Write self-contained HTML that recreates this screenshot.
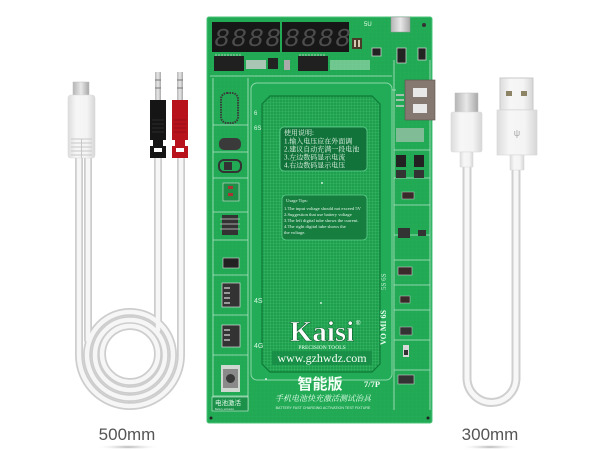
<!DOCTYPE html>
<html><head><meta charset="utf-8"><style>
html,body{margin:0;padding:0;background:#fff;}
svg{display:block;font-family:"Liberation Sans","Noto Sans CJK SC",sans-serif;}
</style></head><body>
<svg width="600" height="450" viewBox="0 0 600 450" xmlns="http://www.w3.org/2000/svg">
<defs>
<pattern id="grid" width="3" height="3" patternUnits="userSpaceOnUse"><path d="M3 0H0V3" fill="none" stroke="#3fbd6c" stroke-width="0.7"/></pattern>
<pattern id="grid2" width="4" height="4" patternUnits="userSpaceOnUse"><path d="M4 0H0V4" fill="none" stroke="#2db45f" stroke-width="0.5"/></pattern>
<linearGradient id="wbody" x1="0" x2="1"><stop offset="0" stop-color="#dcdcdc"/><stop offset="0.3" stop-color="#f6f6f6"/><stop offset="0.7" stop-color="#f4f4f4"/><stop offset="1" stop-color="#d6d6d6"/></linearGradient>
<linearGradient id="metal" x1="0" x2="1"><stop offset="0" stop-color="#b5b5b5"/><stop offset="0.5" stop-color="#e8e8e8"/><stop offset="1" stop-color="#a8a8a8"/></linearGradient>
<radialGradient id="shadow"><stop offset="0" stop-color="#888" stop-opacity="0.7"/><stop offset="1" stop-color="#fff" stop-opacity="0"/></radialGradient>
</defs>

<!-- ============ LEFT CABLES ============ -->
<g fill="none" stroke-linecap="round">
 <g stroke="#cdcdcd" stroke-width="8">
  <path d="M79 158 V355 A51 51 0 0 0 181 355 V158"/>
  <path d="M88 158 V340"/>
  <path d="M158 158 V330"/>
  <circle cx="130" cy="355" r="43"/>
  <circle cx="130" cy="355" r="35"/>
  <circle cx="130" cy="354" r="28"/>
 </g>
 <g stroke="#f6f6f6" stroke-width="4.5">
  <path d="M79 158 V355 A51 51 0 0 0 181 355 V158"/>
  <path d="M88 158 V340"/>
  <path d="M158 158 V330"/>
  <circle cx="130" cy="355" r="43"/>
  <circle cx="130" cy="355" r="35"/>
  <circle cx="130" cy="354" r="28"/>
 </g>
</g>
<!-- micro usb (left) -->
<rect x="73" y="82" width="16" height="14" fill="url(#metal)" stroke="#bbb" stroke-width="0.5"/>
<rect x="68" y="95" width="27" height="63" rx="3" fill="url(#wbody)" stroke="#dadada" stroke-width="0.6"/>
<g stroke="#c8c8c8" stroke-width="1">
 <path d="M71 139H92M71 143H92M71 147H92M71 151H92M71 155H92"/>
 <path d="M81.5 139V158"/>
</g>
<!-- banana plugs -->
<rect x="155" y="72" width="6" height="29" fill="url(#metal)"/>
<rect x="177" y="72" width="6" height="29" fill="url(#metal)"/>
<path d="M155 80H161M155 88H161M177 80H183M177 88H183" stroke="#777" stroke-width="1"/>
<path d="M150 100 H166 V140 H163 V146 H166 V158 H150 V146 H153 V140 H150Z" fill="#151515"/>
<path d="M172 100 H188 V140 H185 V146 H188 V158 H172 V146 H175 V140 H172Z" fill="#b8121d"/>
<g stroke="#333" stroke-width="0.8"><path d="M152 120H164M152 124H164M152 128H164M152 132H164"/></g>
<g stroke="#8a0d15" stroke-width="0.8"><path d="M174 120H186M174 124H186M174 128H186M174 132H186"/></g>
<rect x="154" y="148" width="8" height="4" fill="#fff"/>
<rect x="176" y="148" width="8" height="4" fill="#fff"/>

<!-- ============ RIGHT CABLES ============ -->
<g fill="none">
 <path d="M467 166 V378 A24.5 24.5 0 0 0 516 378 V170" stroke="#cfcfcf" stroke-width="9"/>
 <path d="M467 166 V378 A24.5 24.5 0 0 0 516 378 V170" stroke="#f7f7f7" stroke-width="5"/>
</g>
<!-- micro usb right -->
<rect x="455" y="93" width="23" height="20" fill="url(#metal)" stroke="#bdbdbd" stroke-width="0.5"/>
<rect x="451" y="112" width="31" height="40" rx="2" fill="url(#wbody)" stroke="#d8d8d8" stroke-width="0.6"/>
<rect x="460" y="152" width="13" height="15" fill="url(#wbody)" stroke="#d8d8d8" stroke-width="0.5"/>
<!-- usb A -->
<rect x="500" y="78" width="33" height="32" fill="url(#wbody)" stroke="#c9c9c9" stroke-width="1"/>
<rect x="506" y="91" width="6" height="5" fill="#8d8466"/>
<rect x="521" y="91" width="6" height="5" fill="#8d8466"/>
<rect x="497" y="110" width="40" height="45" fill="url(#wbody)" stroke="#d6d6d6" stroke-width="0.6"/>
<text x="517" y="136" font-size="9" fill="#aaa" text-anchor="middle">ψ</text>
<rect x="510" y="155" width="14" height="15" fill="url(#wbody)" stroke="#d6d6d6" stroke-width="0.5"/>

<!-- labels -->
<ellipse cx="128" cy="447" rx="32" ry="2.5" fill="url(#shadow)"/>
<ellipse cx="490" cy="447" rx="30" ry="2.5" fill="url(#shadow)"/>
<text x="127" y="440" font-size="17" fill="#555" text-anchor="middle">500mm</text>
<text x="490" y="440" font-size="17" fill="#555" text-anchor="middle">300mm</text>

<!-- ============ BOARD ============ -->
<rect x="207" y="17" width="225" height="406" rx="2" fill="#21a954" stroke="#4cc57a" stroke-width="1"/>
<rect x="208" y="18" width="223" height="404" fill="url(#grid2)" opacity="0.6"/>
<!-- displays -->
<rect x="212" y="22" width="68" height="30" fill="#171717"/>
<rect x="282" y="22" width="67" height="30" fill="#171717"/>
<g font-family="Liberation Mono, monospace" font-size="26" font-style="italic" fill="#4d4d4d">
 <text x="214" y="46">8</text><text x="231" y="46">8</text><text x="248" y="46">8</text><text x="265" y="46">8</text>
 <text x="284" y="46">8</text><text x="301" y="46">8</text><text x="318" y="46">8</text><text x="335" y="46">8</text>
</g>
<!-- top right bits -->
<rect x="391" y="17" width="19" height="15" fill="url(#metal)" stroke="#999" stroke-width="0.5"/>
<text x="364" y="26" font-size="6" fill="#e8ffe8">5U</text>
<rect x="352" y="38" width="10" height="11" fill="#4a3a2a"/>
<rect x="354" y="40" width="2" height="7" fill="#d8c8b0"/><rect x="358" y="40" width="2" height="7" fill="#d8c8b0"/>
<rect x="372" y="48" width="9" height="8" fill="#222" stroke="#ddd" stroke-width="0.7"/>
<rect x="397" y="48" width="9" height="15" fill="#222" stroke="#ddd" stroke-width="0.7"/>
<rect x="418" y="48" width="8" height="12" fill="#222" stroke="#ddd" stroke-width="0.7"/>
<circle cx="424" cy="25" r="2" fill="#333"/>
<!-- IC row -->
<rect x="214" y="56" width="30" height="15" fill="#202020"/>
<rect x="298" y="56" width="30" height="15" fill="#202020"/>
<g stroke="#ccc" stroke-width="0.8">
 <path d="M216 56v-2M219 56v-2M222 56v-2M225 56v-2M228 56v-2M231 56v-2M234 56v-2M237 56v-2M240 56v-2"/>
 <path d="M300 56v-2M303 56v-2M306 56v-2M309 56v-2M312 56v-2M315 56v-2M318 56v-2M321 56v-2M324 56v-2"/>
</g>
<rect x="246" y="60" width="20" height="9" fill="#ccc" opacity="0.8"/>
<rect x="268" y="58" width="10" height="11" fill="#222"/>
<rect x="284" y="60" width="6" height="10" fill="#aaa"/>
<rect x="330" y="60" width="40" height="10" fill="#bde3c8" opacity="0.5"/>
<!-- silkscreen lines -->
<g stroke="#cfeedd" stroke-width="0.8" fill="none" opacity="0.85">
 <path d="M210 76H392"/>
 <path d="M213 78V410M248 78V410"/>
 <path d="M213 125H248M213 152H248M213 178H248M213 212H248M213 240H248M213 275H248M213 315H248M213 355H248M213 396H248"/>
 <path d="M394 60V410M430 60V410"/>
 <path d="M394 150H430M394 178H430M394 205H430M394 235H430M394 260H430M394 285H430M394 310H430M394 340H430M394 370H430"/>
 <path d="M386 90H396"/>
</g>
<!-- left column components -->
<rect x="221" y="93" width="17" height="30" rx="6" fill="none" stroke="#3a3a3a" stroke-width="2" stroke-dasharray="1.5 1"/>
<rect x="219" y="138" width="22" height="12" rx="5" fill="#3a3a3a"/>
<rect x="219" y="160" width="22" height="12" rx="5" fill="none" stroke="#333" stroke-width="2"/>
<rect x="224" y="162" width="8" height="8" fill="#333"/>
<rect x="223" y="183" width="16" height="18" fill="#1d8f47" stroke="#ddd" stroke-width="0.6"/>
<rect x="228" y="186" width="5" height="3" fill="#a33"/><rect x="228" y="193" width="5" height="3" fill="#a33"/>
<rect x="222" y="215" width="16" height="20" fill="#333"/>
<path d="M220 219H240M220 224H240M220 229H240" stroke="#aaa" stroke-width="1"/>
<rect x="223" y="258" width="16" height="10" fill="#222" stroke="#ddd" stroke-width="0.6"/>
<!-- connectors -->
<rect x="222" y="283" width="18" height="24" fill="#333" stroke="#ddd" stroke-width="0.7"/>
<path d="M224 288h6M224 293h6M224 298h6M224 303h6" stroke="#bbb" stroke-width="1.5"/>
<rect x="222" y="325" width="18" height="22" fill="#333" stroke="#ddd" stroke-width="0.7"/>
<path d="M224 330h6M224 335h6M224 340h6" stroke="#bbb" stroke-width="1.5"/>
<!-- tact switch -->
<rect x="221" y="365" width="19" height="27" fill="#cfd8d0"/>
<rect x="223" y="369" width="15" height="19" fill="#8a8a8a"/>
<circle cx="230.5" cy="378.5" r="4.5" fill="#3a3a3a"/>
<rect x="212" y="397" width="36" height="14" fill="#1b9149" stroke="#cfeedd" stroke-width="0.6"/>
<text x="215" y="405" font-size="6.5" fill="#e8fff0">电池激活</text>
<text x="215" y="410" font-size="2.5" fill="#cfeedd">Battery activation</text>
<circle cx="211" cy="418" r="1.5" fill="#222"/>

<!-- inner frame -->
<rect x="251" y="83" width="141" height="297" rx="6" fill="#22ac57" stroke="#8ad8a8" stroke-width="1"/>
<path d="M270 96 H372 L380 104 V364 L372 372 H270 L262 364 V104Z" fill="#1d9f4e"/>
<path d="M270 96 H372 L380 104 V364 L372 372 H270 L262 364 V104Z" fill="url(#grid)"/>
<path d="M270 96 H372 L380 104 V364 L372 372 H270 L262 364 V104Z" fill="none" stroke="#0f7a37" stroke-width="1.2"/>
<text x="254" y="303" font-size="7" fill="#d8f5e2">4S</text>
<text x="254" y="348" font-size="7" fill="#d8f5e2">4G</text>
<text x="254" y="115" font-size="6" fill="#d8f5e2">6</text>
<text x="254" y="130" font-size="6" fill="#d8f5e2">6S</text>
<g transform="translate(386,345) rotate(-90)"><text font-size="8" fill="#e8fff0" font-family="Liberation Serif, serif" font-weight="bold">VO  MI  6S</text></g>
<g transform="translate(386,290) rotate(-90)"><text font-size="7" fill="#bfe8cf" font-family="Liberation Serif, serif">5S  6S</text></g>

<!-- text box 1 -->
<rect x="280" y="127" width="87" height="44" rx="4" fill="#11733a" stroke="#5fcf8c" stroke-width="0.8"/>
<g font-size="7" fill="#e6f7ea" font-family="Liberation Serif, 'Noto Serif CJK SC', serif">
 <text x="284" y="135">使用说明:</text>
 <text x="284" y="143.5">1.输入电压应在外面调</text>
 <text x="284" y="151.5">2.建议自动充满一段电池</text>
 <text x="284" y="159.5">3.左边数码显示电流</text>
 <text x="284" y="167.5">4.右边数码显示电压</text>
</g>
<!-- text box 2 -->
<rect x="282" y="195" width="85" height="45" rx="4" fill="#167e3f" stroke="#5fcf8c" stroke-width="0.8"/>
<g font-size="4.6" fill="#e6f7ea" font-family="Liberation Serif, serif">
 <text x="286" y="202">Usage Tips:</text>
 <text x="284" y="210">1.The input voltage should not exceed 5V</text>
 <text x="284" y="216">2.Suggestion that use battery voltage</text>
 <text x="284" y="222">3.The left digital tube shows the current.</text>
 <text x="284" y="228">4.The right digital tube shows the</text>
 <text x="284" y="234">the voltage.</text>
</g>
<circle cx="322" cy="183" r="1" fill="#cfeedd"/>
<circle cx="321" cy="303" r="1" fill="#cfeedd"/>

<!-- logo -->
<text x="322" y="341" font-size="29" font-weight="bold" fill="#ffffff" stroke="#0d5e2c" stroke-width="0.6" text-anchor="middle" font-family="Liberation Serif, serif">Kaisi</text>
<text x="356" y="325" font-size="6" fill="#fff">®</text>
<text x="322" y="349" font-size="5.5" fill="#eafff0" text-anchor="middle" font-family="Liberation Serif, serif">PRECISION TOOLS</text>
<rect x="272" y="351" width="100" height="14" fill="#168a43" opacity="0.8"/>
<text x="322" y="362" font-size="12" fill="#f4fff6" text-anchor="middle" font-family="Liberation Serif, serif">www.gzhwdz.com</text>
<circle cx="266" cy="379" r="1" fill="#cfeedd"/>
<text x="320" y="389" font-size="15" font-weight="bold" fill="#f4fff6" text-anchor="middle" font-family="'Noto Sans CJK SC', sans-serif">智能版</text>
<text x="364" y="387" font-size="8.5" font-weight="bold" fill="#f4fff6" font-family="Liberation Serif, serif">7/7P</text>
<text x="323" y="401" font-size="8" font-style="italic" fill="#e8fff0" text-anchor="middle" font-family="'Noto Serif CJK SC', serif">手机电池快充激活测试治具</text>
<text x="323" y="409" font-size="3.6" fill="#d8f5e2" text-anchor="middle">BATTERY FAST CHARGING ACTIVATION TEST FIXTURE</text>

<!-- right column -->
<rect x="405" y="80" width="30" height="40" fill="#857870" stroke="#5a504a" stroke-width="0.6"/>
<rect x="413" y="88" width="14" height="9" fill="#e8e8e8"/>
<rect x="413" y="104" width="14" height="9" fill="#e8e8e8"/>
<path d="M396 95h8M396 100h8M396 106h8" stroke="#ccc" stroke-width="1.5"/>
<rect x="396" y="128" width="28" height="14" fill="#bfcac2" opacity="0.6"/>
<rect x="396" y="155" width="10" height="12" fill="#222"/>
<rect x="414" y="155" width="10" height="12" fill="#222"/>
<rect x="396" y="170" width="10" height="8" fill="#333"/>
<rect x="414" y="170" width="10" height="8" fill="#333"/>
<rect x="402" y="192" width="12" height="7" fill="#3a2a2a" stroke="#ccc" stroke-width="0.5"/>
<rect x="398" y="228" width="12" height="10" fill="#333"/>
<rect x="398" y="267" width="14" height="8" fill="#3a2a2a" stroke="#ccc" stroke-width="0.6"/>
<rect x="400" y="296" width="10" height="7" fill="#3a2a2a" stroke="#ccc" stroke-width="0.5"/>
<rect x="400" y="327" width="12" height="8" fill="#333" stroke="#ccc" stroke-width="0.5"/>
<rect x="403" y="345" width="6" height="12" fill="#d8d8d8"/>
<rect x="404" y="350" width="4" height="5" fill="#333"/>
<rect x="398" y="375" width="16" height="9" fill="#333" stroke="#ccc" stroke-width="0.6"/>
<rect x="418" y="230" width="8" height="6" fill="#333"/>
<circle cx="428" cy="418" r="1.5" fill="#222"/>
</svg>
</body></html>
